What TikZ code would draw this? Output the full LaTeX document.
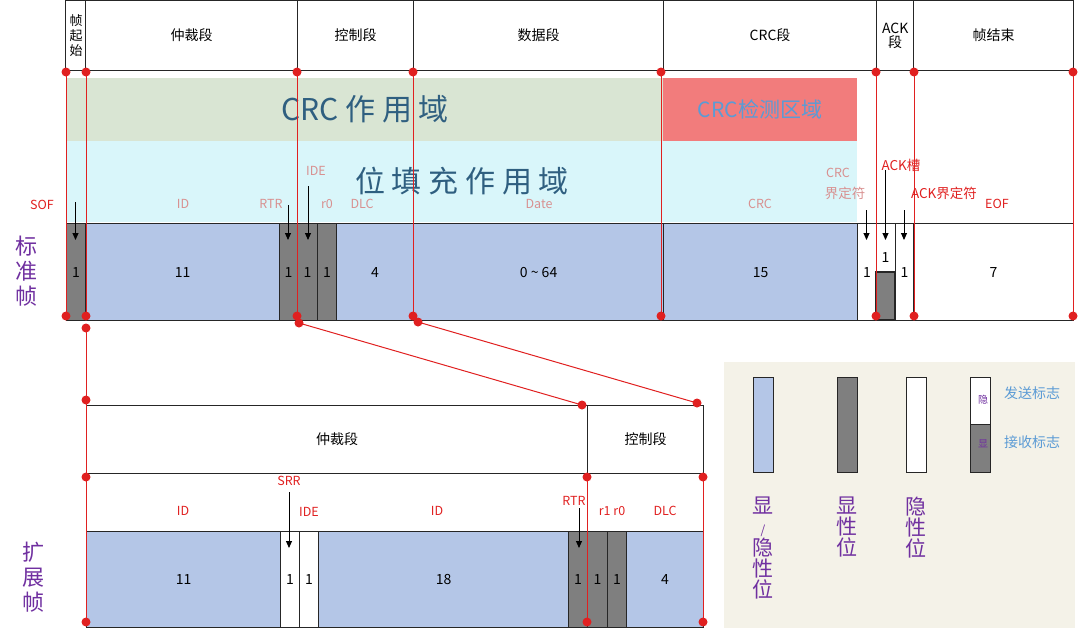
\documentclass[tikz,border=0pt]{standalone}
\usepackage{fontspec}
\setmainfont{Noto Sans CJK SC}
\usetikzlibrary{arrows.meta}
\definecolor{cblue}{HTML}{B4C6E7}
\definecolor{cgray}{HTML}{7F7F7F}
\definecolor{cgreen}{HTML}{D9E5D3}
\definecolor{ccyan}{HTML}{D9F6FA}
\definecolor{cpink}{HTML}{F27C7C}
\definecolor{cred}{HTML}{E02020}
\definecolor{cfade}{HTML}{D89090}
\definecolor{cpurple}{HTML}{7030A0}
\definecolor{cleg}{HTML}{F4F2E8}
\definecolor{cdark}{HTML}{2F5F80}
\definecolor{clblue}{HTML}{5B9BD5}
\begin{document}
\begin{tikzpicture}[x=1pt,y=-1pt,
  box/.style={draw=black!85,line width=1.2pt,inner sep=0pt,font=\fontsize{14}{14}\selectfont},
  redl/.style={draw=cred,line width=1pt},
  dot/.style={circle,fill=cred,inner sep=0pt,minimum size=9pt},
  lab/.style={font=\fontsize{12.5}{12.5}\selectfont,inner sep=0pt},
  arr/.style={-{Triangle[length=7pt,width=6pt]},line width=0.9pt,black}]
\useasboundingbox (0,0) rectangle (1080,635);
\newcommand{\cell}[7]{\node[box,fill=#6,minimum width=#3-#2,minimum height=#5-#4,anchor=north west] (#1) at (#2,#4) {#7};}
% header
\cell{h0}{65}{85}{0}{70}{white}{\parbox{12pt}{\fontsize{13}{15}\selectfont 帧\\起\\始}}
\cell{h1}{85}{297}{0}{70}{white}{仲裁段}
\cell{h2}{297}{413}{0}{70}{white}{控制段}
\cell{h3}{413}{663}{0}{70}{white}{数据段}
\cell{h4}{663}{876}{0}{70}{white}{CRC段}
\cell{h5}{876}{913}{0}{70}{white}{\parbox{26pt}{\centering ACK\\段}}
\cell{h6}{913}{1073}{0}{70}{white}{帧结束}
% bands
\fill[cgreen] (66,78) rectangle (663,141);
\fill[ccyan] (66,141) rectangle (857,222);
\fill[cpink] (663,78) rectangle (857,141);
\node[text=cdark,font=\fontsize{30}{30}\selectfont] (t1) at (365,109) {CRC 作 用 域};
\node[text=cdark,font=\fontsize{30}{30}\selectfont] (t2) at (462,181) {位 填 充 作 用 域};
\node[text=clblue,font=\fontsize{21}{21}\selectfont] (t3) at (760,109) {CRC检测区域};
% standard frame
\cell{s0}{66}{85}{223}{320}{cgray}{1}
\cell{s1}{85}{279}{223}{320}{cblue}{11}
\cell{s2}{279}{297}{223}{320}{cgray}{1}
\cell{s3}{297}{317}{223}{320}{cgray}{1}
\cell{s4}{317}{336}{223}{320}{cgray}{1}
\cell{s5}{336}{413}{223}{320}{cblue}{4}
\cell{s6}{413}{663}{223}{320}{cblue}{0 \textasciitilde{} 64}
\cell{s7}{663}{857}{223}{320}{cblue}{15}
\cell{s8}{857}{876}{223}{320}{white}{1}
\cell{s9}{876}{895}{223}{320}{white}{}
\cell{s10}{895}{913}{223}{320}{white}{1}
\cell{s11}{913}{1073}{223}{320}{white}{7}
\draw[box,fill=cgray] (876,272) rectangle (895,320);
\node[lab,font=\fontsize{14}{14}\selectfont] (s9t) at (885.5,258) {1};
% labels standard
\node[lab,text=cred] (lsof) at (42,205) {SOF};
\node[lab,text=cfade] (lid) at (183,204) {ID};
\node[lab,text=cfade] (lrtr) at (271,204) {RTR};
\node[lab,text=cfade] (lide) at (316,171) {IDE};
\node[lab,text=cfade] (lr0) at (327,204) {r0};
\node[lab,text=cfade] (ldlc) at (362,204) {DLC};
\node[lab,text=cfade] (ldate) at (539,204) {Date};
\node[lab,text=cfade] (lcrc) at (760,204) {CRC};
\node[lab,text=cfade] (lcd1) at (838,173) {CRC};
\node[lab,text=cfade,font=\fontsize{13.5}{13.5}\selectfont] (lcd2) at (845,193) {界定符};
\node[lab,text=cred,font=\fontsize{13.5}{13.5}\selectfont] (lack) at (901,165) {ACK槽};
\node[lab,text=cred,font=\fontsize{13.5}{13.5}\selectfont] (lackd) at (944,193) {ACK界定符};
\node[lab,text=cred] (leof) at (997,204) {EOF};
\coordinate (a1) at (75.5,202); \coordinate (a2) at (288,205); \coordinate (a3) at (308,186);
\coordinate (a4) at (866.5,210); \coordinate (a5) at (885.5,170); \coordinate (a6) at (904,210);
\draw[arr] (a1) -- (75.5,240);
\draw[arr] (a2) -- (288,240);
\draw[arr] (a3) -- (308,240);
\draw[arr] (a4) -- (866.5,240);
\draw[arr] (a5) -- (885.5,240);
\draw[arr] (a6) -- (904,240);
\node[text=cpurple,font=\fontsize{22}{25}\selectfont,align=center] (std) at (27,271) {标\\准\\帧};
% red lines standard
\foreach \x [count=\i] in {66,86,297,413,661,876,914,1073}{
  \coordinate (ut\i) at (\x,72); \coordinate (ub\i) at (\x,316);
  \draw[redl] (ut\i) -- (ub\i);
  \node[dot] at (ut\i) {}; \node[dot] at (ub\i) {};}
% extended header
\cell{e0}{86}{587}{405}{473}{white}{仲裁段}
\cell{e1}{587}{703}{405}{473}{white}{控制段}
\coordinate (c1) at (86,328); \coordinate (c2) at (86,400);
\coordinate (c3) at (299,323); \coordinate (c4) at (582,405);
\coordinate (c5) at (418,322); \coordinate (c6) at (697,403);
\draw[redl] (c1) -- (c2); \draw[redl] (c3) -- (c4); \draw[redl] (c5) -- (c6);
\foreach \c in {c1,c2,c3,c4,c5,c6} \node[dot] at (\c) {};
% extended frame
\cell{x0}{86}{280}{531}{627}{cblue}{11}
\cell{x1}{280}{299}{531}{627}{white}{1}
\cell{x2}{299}{318}{531}{627}{white}{1}
\cell{x3}{318}{568}{531}{627}{cblue}{18}
\cell{x4}{568}{587}{531}{627}{cgray}{1}
\cell{x5}{587}{607}{531}{627}{cgray}{1}
\cell{x6}{607}{626}{531}{627}{cgray}{1}
\cell{x7}{626}{703}{531}{627}{cblue}{4}
\foreach \x [count=\i] in {86,587,703}{
  \coordinate (vt\i) at (\x,477); \coordinate (vb\i) at (\x,622);
  \draw[redl] (vt\i) -- (vb\i);
  \node[dot] at (vt\i) {}; \node[dot] at (vb\i) {};}
\draw[redl] (c2) -- (vt1);
\node[lab,text=cred] (xid1) at (183,511) {ID};
\node[lab,text=cred] (xsrr) at (289,481) {SRR};
\node[lab,text=cred] (xide) at (309,512) {IDE};
\node[lab,text=cred] (xid2) at (437,511) {ID};
\node[lab,text=cred] (xrtr) at (574,501) {RTR};
\node[lab,text=cred] (xr) at (612,511) {r1 r0};
\node[lab,text=cred] (xdlc) at (665,511) {DLC};
\coordinate (b1) at (289,492); \coordinate (b2) at (579,508);
\draw[arr] (b1) -- (289,548);
\draw[arr] (b2) -- (579,548);
\node[text=cpurple,font=\fontsize{22}{25}\selectfont,align=center] (ext) at (33,577) {扩\\展\\帧};
% legend
\fill[cleg] (724,362) rectangle (1075,628);
\node[box,fill=cblue,minimum width=20,minimum height=95,anchor=north west] (g1) at (753,377) {};
\node[box,fill=cgray,minimum width=20,minimum height=95,anchor=north west] (g2) at (837,377) {};
\node[box,fill=white,minimum width=20,minimum height=95,anchor=north west] (g3) at (906,377) {};
\node[box,fill=white,minimum width=20,minimum height=47,anchor=north west] (g4) at (970,377) {};
\node[box,fill=cgray,minimum width=20,minimum height=48,anchor=north west] (g5) at (970,424) {};
\node[lab,text=cpurple,font=\fontsize{10}{10}\selectfont] (g4t) at (983,400) {隐};
\node[lab,text=cpurple,font=\fontsize{10}{10}\selectfont] (g5t) at (983,444) {显};
\node[lab,text=clblue,font=\fontsize{14}{14}\selectfont] (gs) at (1032,393) {发送标志};
\node[lab,text=clblue,font=\fontsize{14}{14}\selectfont] (gr) at (1032,442) {接收标志};
\node[text=cpurple,font=\fontsize{21}{21}\selectfont,align=center,anchor=north,inner sep=0pt] (l1) at (763,497) {显\\{\fontsize{12}{12}\selectfont /}\\隐\\性\\位};
\node[text=cpurple,font=\fontsize{21}{21}\selectfont,align=center,anchor=north,inner sep=0pt] (l2) at (847,497) {显\\性\\位};
\node[text=cpurple,font=\fontsize{21}{21}\selectfont,align=center,anchor=north,inner sep=0pt] (l3) at (916,497) {隐\\性\\位};
\end{tikzpicture}
\end{document}
